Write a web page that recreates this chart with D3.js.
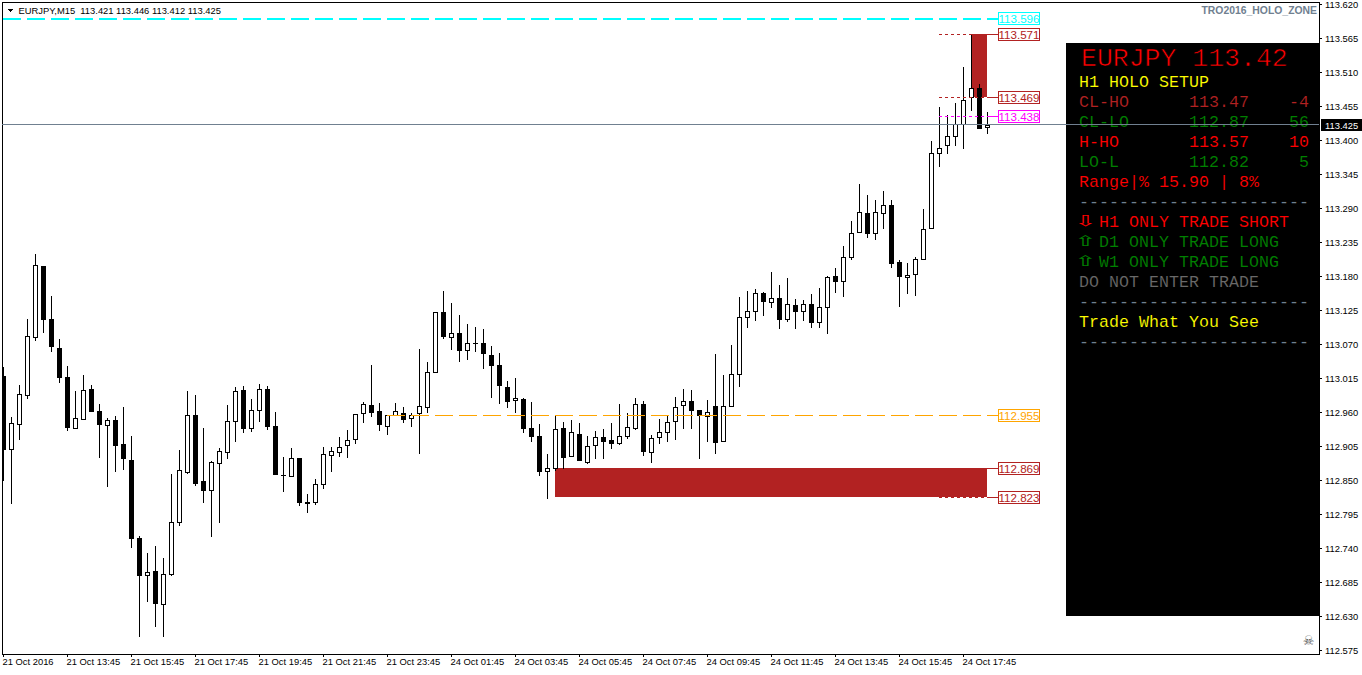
<!DOCTYPE html>
<html>
<head>
<meta charset="utf-8">
<title>EURJPY,M15</title>
<script src="https://cdn.jsdelivr.net/npm/d3@7"></script>
<style>
    html, body { margin: 0; padding: 0; background: #fff; }
    svg { display: block; }
    .axis-text { font-family: "Liberation Sans", sans-serif; font-size: 9.4px; fill: #000; }
    .panel-text { font-family: "Liberation Mono", monospace; font-size: 16.67px; stroke: #000; stroke-width: 0.12px; }
</style>
</head>
<body>
<div id="chart"></div>
<script>
// Candles, oldest first
const opens = [
    113.018, 112.900, 112.941, 112.988, 113.081, 113.196, 113.110, 113.063, 113.017, 112.934,
    112.949, 112.997, 112.962, 112.939, 112.947, 112.908, 112.882, 112.756, 112.696, 112.703,
    112.649, 112.698, 112.782, 112.863, 112.955, 112.848, 112.834, 112.878, 112.895, 112.945,
    112.996, 112.934, 112.963, 112.997, 112.937, 112.858, 112.856, 112.886, 112.814, 112.814,
    112.844, 112.890, 112.895, 112.907, 112.916, 112.958, 112.971, 112.962, 112.937, 112.955,
    112.958, 112.950, 112.958, 112.968, 113.025, 113.122, 113.081, 113.088, 113.060, 113.072,
    113.072, 113.052, 113.036, 113.000, 112.979, 112.981, 112.934, 112.921, 112.865, 112.869,
    112.934, 112.889, 112.924, 112.879, 112.907, 112.920, 112.915, 112.910, 112.921, 112.934,
    112.973, 112.895, 112.920, 112.928, 112.945, 112.971, 112.978, 112.963, 112.954, 112.970,
    112.913, 112.970, 113.021, 113.114, 113.123, 113.152, 113.138, 113.144, 113.110, 113.133,
    113.123, 113.135, 113.106, 113.130, 113.180, 113.172, 113.211, 113.251, 113.282, 113.250,
    113.282, 113.295, 113.203, 113.178, 113.183, 113.207, 113.258, 113.379, 113.392, 113.406,
    113.426, 113.470, 113.484, 113.421
];
const highs = [
    113.033, 112.952, 113.004, 113.110, 113.216, 113.196, 113.148, 113.078, 113.034, 112.994,
    113.020, 113.004, 112.973, 112.950, 112.954, 112.968, 112.921, 112.759, 112.732, 112.743,
    112.724, 112.860, 112.898, 112.994, 112.988, 112.934, 112.881, 112.902, 112.971, 113.000,
    113.002, 112.981, 113.005, 113.002, 112.960, 112.887, 112.902, 112.886, 112.827, 112.852,
    112.903, 112.903, 112.920, 112.931, 112.957, 112.976, 113.036, 112.975, 112.955, 112.975,
    112.968, 112.958, 113.062, 113.041, 113.122, 113.156, 113.136, 113.117, 113.102, 113.097,
    113.094, 113.067, 113.055, 113.010, 113.015, 112.983, 112.976, 112.941, 112.892, 112.954,
    112.944, 112.947, 112.942, 112.921, 112.929, 112.932, 112.942, 112.973, 112.958, 112.983,
    112.978, 112.923, 112.949, 112.955, 112.984, 112.997, 112.996, 112.963, 112.979, 113.054,
    113.020, 113.068, 113.146, 113.156, 113.159, 113.154, 113.186, 113.165, 113.177, 113.143,
    113.141, 113.151, 113.161, 113.180, 113.193, 113.228, 113.269, 113.329, 113.311, 113.303,
    113.317, 113.303, 113.206, 113.201, 113.211, 113.288, 113.398, 113.453, 113.440, 113.460,
    113.518, 113.571, 113.491, 113.446
];
const lows = [
    112.850, 112.813, 112.916, 112.983, 113.076, 113.089, 113.059, 113.008, 112.931, 112.934,
    112.949, 112.962, 112.887, 112.840, 112.865, 112.868, 112.742, 112.598, 112.654, 112.614,
    112.598, 112.696, 112.777, 112.861, 112.842, 112.814, 112.759, 112.782, 112.886, 112.913,
    112.928, 112.929, 112.945, 112.932, 112.860, 112.832, 112.856, 112.810, 112.798, 112.811,
    112.837, 112.865, 112.889, 112.887, 112.910, 112.944, 112.954, 112.931, 112.924, 112.955,
    112.944, 112.937, 112.894, 112.960, 113.025, 113.080, 113.062, 113.042, 113.046, 113.059,
    113.031, 112.984, 112.975, 112.968, 112.960, 112.928, 112.913, 112.858, 112.821, 112.866,
    112.869, 112.889, 112.882, 112.878, 112.886, 112.886, 112.902, 112.908, 112.918, 112.932,
    112.890, 112.879, 112.910, 112.913, 112.916, 112.934, 112.934, 112.886, 112.913, 112.894,
    112.913, 112.970, 113.002, 113.097, 113.109, 113.117, 113.130, 113.096, 113.107, 113.096,
    113.109, 113.097, 113.097, 113.088, 113.154, 113.148, 113.207, 113.251, 113.243, 113.240,
    113.258, 113.195, 113.131, 113.152, 113.149, 113.207, 113.258, 113.358, 113.379, 113.392,
    113.387, 113.448, 113.419, 113.412
];
const closes = [
    112.900, 112.942, 112.989, 113.083, 113.198, 113.110, 113.067, 113.017, 112.936, 112.950,
    112.996, 112.962, 112.941, 112.947, 112.907, 112.886, 112.756, 112.696, 112.701, 112.651,
    112.698, 112.782, 112.866, 112.955, 112.845, 112.834, 112.879, 112.897, 112.945, 112.994,
    112.934, 112.963, 112.997, 112.937, 112.860, 112.858, 112.886, 112.814, 112.813, 112.844,
    112.892, 112.897, 112.903, 112.915, 112.957, 112.973, 112.960, 112.941, 112.955, 112.962,
    112.949, 112.955, 112.970, 113.025, 113.122, 113.083, 113.088, 113.060, 113.072, 113.072,
    113.055, 113.036, 113.004, 112.978, 112.983, 112.934, 112.921, 112.865, 112.869, 112.932,
    112.887, 112.928, 112.882, 112.905, 112.920, 112.913, 112.910, 112.921, 112.936, 112.973,
    112.897, 112.918, 112.928, 112.944, 112.968, 112.978, 112.963, 112.955, 112.960, 112.911,
    112.970, 113.021, 113.114, 113.123, 113.152, 113.140, 113.144, 113.110, 113.135, 113.123,
    113.135, 113.106, 113.130, 113.178, 113.172, 113.211, 113.250, 113.283, 113.250, 113.283,
    113.295, 113.201, 113.180, 113.182, 113.207, 113.256, 113.379, 113.387, 113.406, 113.426,
    113.465, 113.484, 113.419, 113.425
];

// Axis labels
const priceTicks = [
    113.620, 113.565, 113.510, 113.455, 113.400, 113.345, 113.290, 113.235, 113.180, 113.125,
    113.070, 113.015, 112.960, 112.905, 112.850, 112.795, 112.740, 112.685, 112.630, 112.575
];
const timeLabels = [
    "21 Oct 2016", "21 Oct 13:45", "21 Oct 15:45", "21 Oct 17:45", "21 Oct 19:45", "21 Oct 21:45",
    "21 Oct 23:45", "24 Oct 01:45", "24 Oct 03:45", "24 Oct 05:45", "24 Oct 07:45", "24 Oct 09:45",
    "24 Oct 11:45", "24 Oct 13:45", "24 Oct 15:45", "24 Oct 17:45"
];

// HOLO levels and zones
const levelPrices = [113.596, 113.571, 113.469, 113.438, 112.955, 112.869, 112.823];
const levelFrom = [0, 117, 117, 117, 48, 123, 117];
const zoneTop = [113.571, 112.869];
const zoneBottom = [113.469, 112.823];
const zoneFrom = [121, 69];

const symbolText = "EURJPY,M15  113.421 113.446 113.412 113.425";
const lastPrice = 113.425;

// Panel rows: label, value, pips
const setupRows = [
    ["CL-HO", "113.47", "-4"],
    ["CL-LO", "112.87", "56"],
    ["H-HO", "113.57", "10"],
    ["LO-L", "112.82", "5"]
];
const signalRows = [
    ["\u21E9", "H1 ONLY TRADE SHORT"],
    ["\u21E7", "D1 ONLY TRADE LONG"],
    ["\u21E7", "W1 ONLY TRADE LONG"]
];

const width = 1362, height = 675;
const frame = { left: 2, top: 2, right: 1319, bottom: 654 };

const BLACK = "#000", FIREBRICK = "#b22222", CYAN = "#00ffff", MAGENTA = "#ff00ff",
    ORANGE = "#ffa500", SLATE = "#708090", DIM = "#696969", GREEN = "#008000", RED = "#ff0000", YELLOW = "#ffff00";
const levelColors = [CYAN, FIREBRICK, FIREBRICK, MAGENTA, ORANGE, FIREBRICK, FIREBRICK];
const levelDash = ["18,6", "3,3", "3,3", "3,3", "18,6", null, "3,3"];
const levelWeight = [2, 1, 1, 1, 1, 1, 1];

const svg = d3.select("#chart").append("svg")
    .attr("width", width)
    .attr("height", height)
    .style("shape-rendering", "crispEdges");

const x = d3.scaleLinear().domain([0, 123]).range([3, 987]);
const priceScale = d3.scaleLinear().domain([112.575, 113.620]).range([650, 4]);
const y = p => Math.round(priceScale(p));

svg.append("clipPath").attr("id", "plot-clip").append("rect")
    .attr("x", frame.left + 1).attr("y", frame.top + 1)
    .attr("width", frame.right - frame.left - 1).attr("height", frame.bottom - frame.top - 1);

const plot = svg.append("g").attr("clip-path", "url(#plot-clip)");

function drawZones() {
    plot.append("g").selectAll("rect")
        .data(zoneTop)
        .join("rect")
        .attr("x", (d, i) => x(zoneFrom[i]))
        .attr("width", (d, i) => x(123) - x(zoneFrom[i]))
        .attr("y", d => y(d))
        .attr("height", (d, i) => y(zoneBottom[i]) - y(d))
        .attr("fill", FIREBRICK);
}

function drawCandles() {
    const candles = d3.range(opens.length).map(i => ({
        i, open: opens[i], high: highs[i], low: lows[i], close: closes[i]
    }));

    const g = plot.append("g").selectAll("g")
        .data(candles)
        .join("g")
        .attr("transform", d => `translate(${x(d.i)},0)`);

    g.append("rect")
        .attr("x", 0).attr("width", 1)
        .attr("y", d => y(d.high))
        .attr("height", d => y(d.low) - y(d.high) + 1)
        .attr("fill", BLACK);

    g.append("rect")
        .attr("x", d => d.close > d.open ? -1.5 : -2)
        .attr("width", d => d.close > d.open ? 4 : 5)
        .attr("y", d => y(Math.max(d.open, d.close)) + (d.close > d.open ? 0.5 : 0))
        .attr("height", d => {
            const h = y(Math.min(d.open, d.close)) - y(Math.max(d.open, d.close));
            return d.close > d.open ? h : h + 1;
        })
        .attr("fill", d => d.close > d.open ? "#fff" : BLACK)
        .attr("stroke", d => d.close > d.open ? BLACK : "none");
}

function drawLevels() {
    levelPrices.forEach((price, k) => {
        const weight = levelWeight[k];
        // thick lines sit one row higher, like the terminal draws them
        const row = Math.round(priceScale(price) - 0.15) + 0.5 - (weight - 1);
        const lineRow = weight > 1 ? row + 0.5 : row;
        const color = levelColors[k];
        if (levelDash[k]) {
            svg.append("line")
                .attr("x1", x(levelFrom[k])).attr("x2", x(123))
                .attr("y1", lineRow).attr("y2", lineRow)
                .attr("stroke", color)
                .attr("stroke-width", weight)
                .attr("stroke-dasharray", levelDash[k]);
        }
        // connector to the label box
        svg.append("line")
            .attr("x1", x(123)).attr("x2", 998)
            .attr("y1", lineRow).attr("y2", lineRow)
            .attr("stroke", color)
            .attr("stroke-width", weight);

        svg.append("rect")
            .attr("x", 998.5).attr("y", row - 6)
            .attr("width", 41).attr("height", 12)
            .attr("fill", "#fff").attr("stroke", color);

        svg.append("text")
            .attr("class", "axis-text")
            .attr("x", 1019).attr("y", row + 4)
            .attr("text-anchor", "middle")
            .style("fill", color)
            .style("font-size", "11.6px")
            .text(price.toFixed(3));
    });
}

function drawAxes() {
    svg.append("rect")
        .attr("x", frame.left + 0.5).attr("y", frame.top + 0.5)
        .attr("width", frame.right - frame.left).attr("height", frame.bottom - frame.top)
        .attr("fill", "none").attr("stroke", BLACK);

    const right = svg.append("g")
        .attr("transform", `translate(${frame.right},0)`)
        .call(d3.axisRight(priceScale).tickValues(priceTicks).tickSize(3).tickPadding(3).tickFormat(d3.format(".3f")));
    right.select(".domain").remove();

    const bottom = svg.append("g")
        .attr("transform", `translate(0,${frame.bottom})`)
        .call(d3.axisBottom(x)
            .tickValues(timeLabels.map((d, k) => k * 8))
            .tickSize(3).tickPadding(1)
            .tickFormat((d, k) => timeLabels[k]));
    bottom.select(".domain").remove();
    bottom.selectAll("text").attr("text-anchor", "start").attr("dx", "-1");

    svg.selectAll(".tick text").attr("class", "axis-text").attr("fill", null);
    svg.selectAll(".tick line").attr("stroke", BLACK);
}

function drawHeader() {
    svg.append("path")
        .attr("d", d3.line()([[7, 9], [13, 9], [10, 12]]) + "Z")
        .attr("fill", BLACK);

    svg.append("text").attr("class", "axis-text")
        .attr("x", 18.5).attr("y", 14)
        .style("white-space", "pre")
        .text(symbolText);

    svg.append("text").attr("class", "axis-text")
        .attr("x", 1317).attr("y", 14)
        .attr("text-anchor", "end")
        .style("fill", SLATE)
        .style("font-weight", "bold")
        .style("font-size", "10.4px")
        .text("TRO2016_HOLO_ZONE");

    svg.append("text")
        .attr("x", 1308.5).attr("y", 645)
        .attr("text-anchor", "middle")
        .style("font-family", "DejaVu Sans")
        .style("font-size", "13px")
        .style("fill", "#555")
        .text("\u2620");
}

function panelLine(px, py, txt, color) {
    return svg.append("text")
        .attr("class", "panel-text")
        .attr("x", px).attr("y", py)
        .style("white-space", "pre")
        .style("fill", color)
        .text(txt);
}

function drawPanel() {
    svg.append("rect")
        .attr("x", 1066).attr("y", 43)
        .attr("width", frame.right - 1066).attr("height", 573)
        .attr("fill", BLACK);

    panelLine(1081, 66, "EURJPY 113.42", RED)
        .style("font-size", "26.5px")
        .style("stroke-width", "0.6px");
    panelLine(1079, 87, "H1 HOLO SETUP", YELLOW);

    const setupColors = [FIREBRICK, GREEN, RED, GREEN];
    setupRows.forEach((row, k) => {
        const py = 107 + k * 20;
        panelLine(1079, py, row[0], setupColors[k]);
        panelLine(1189, py, row[1], setupColors[k]);
        panelLine(1309, py, row[2], setupColors[k]).attr("text-anchor", "end");
    });

    panelLine(1079, 187, "Range|% 15.90 | 8%", RED);
    panelLine(1079, 207, "-".repeat(23), SLATE);

    const signalColors = [RED, GREEN, GREEN];
    signalRows.forEach((row, k) => {
        const py = 227 + k * 20;
        // the arrow glyph is narrow, widen it to the size of the Wingdings one
        panelLine(0, 0, row[0], signalColors[k])
            .attr("transform", `translate(1074.5,${py - 1}) scale(1.8,1)`)
            .style("font-family", "DejaVu Sans")
            .style("font-size", "15px")
            .style("stroke", "none");
        panelLine(1099, py, row[1], signalColors[k]);
    });

    panelLine(1079, 287, "DO NOT ENTER TRADE", DIM);
    panelLine(1079, 307, "-".repeat(23), SLATE);
    panelLine(1079, 327, "Trade What You See", YELLOW);
    panelLine(1079, 347, "-".repeat(23), SLATE);
}

function drawLastPrice() {
    const row = Math.floor(priceScale(lastPrice)) + 0.5;
    svg.append("line")
        .attr("x1", frame.left).attr("x2", frame.right)
        .attr("y1", row).attr("y2", row)
        .attr("stroke", SLATE);

    svg.append("rect")
        .attr("x", 1321).attr("y", row - 5.5)
        .attr("width", 41).attr("height", 12)
        .attr("fill", BLACK);

    svg.append("text").attr("class", "axis-text")
        .attr("x", 1325).attr("y", row + 4)
        .style("fill", "#fff")
        .text(lastPrice.toFixed(3));
}

drawZones();
drawCandles();
drawLevels();
drawPanel();
drawAxes();
drawHeader();
drawLastPrice();
</script>
</body>
</html>
